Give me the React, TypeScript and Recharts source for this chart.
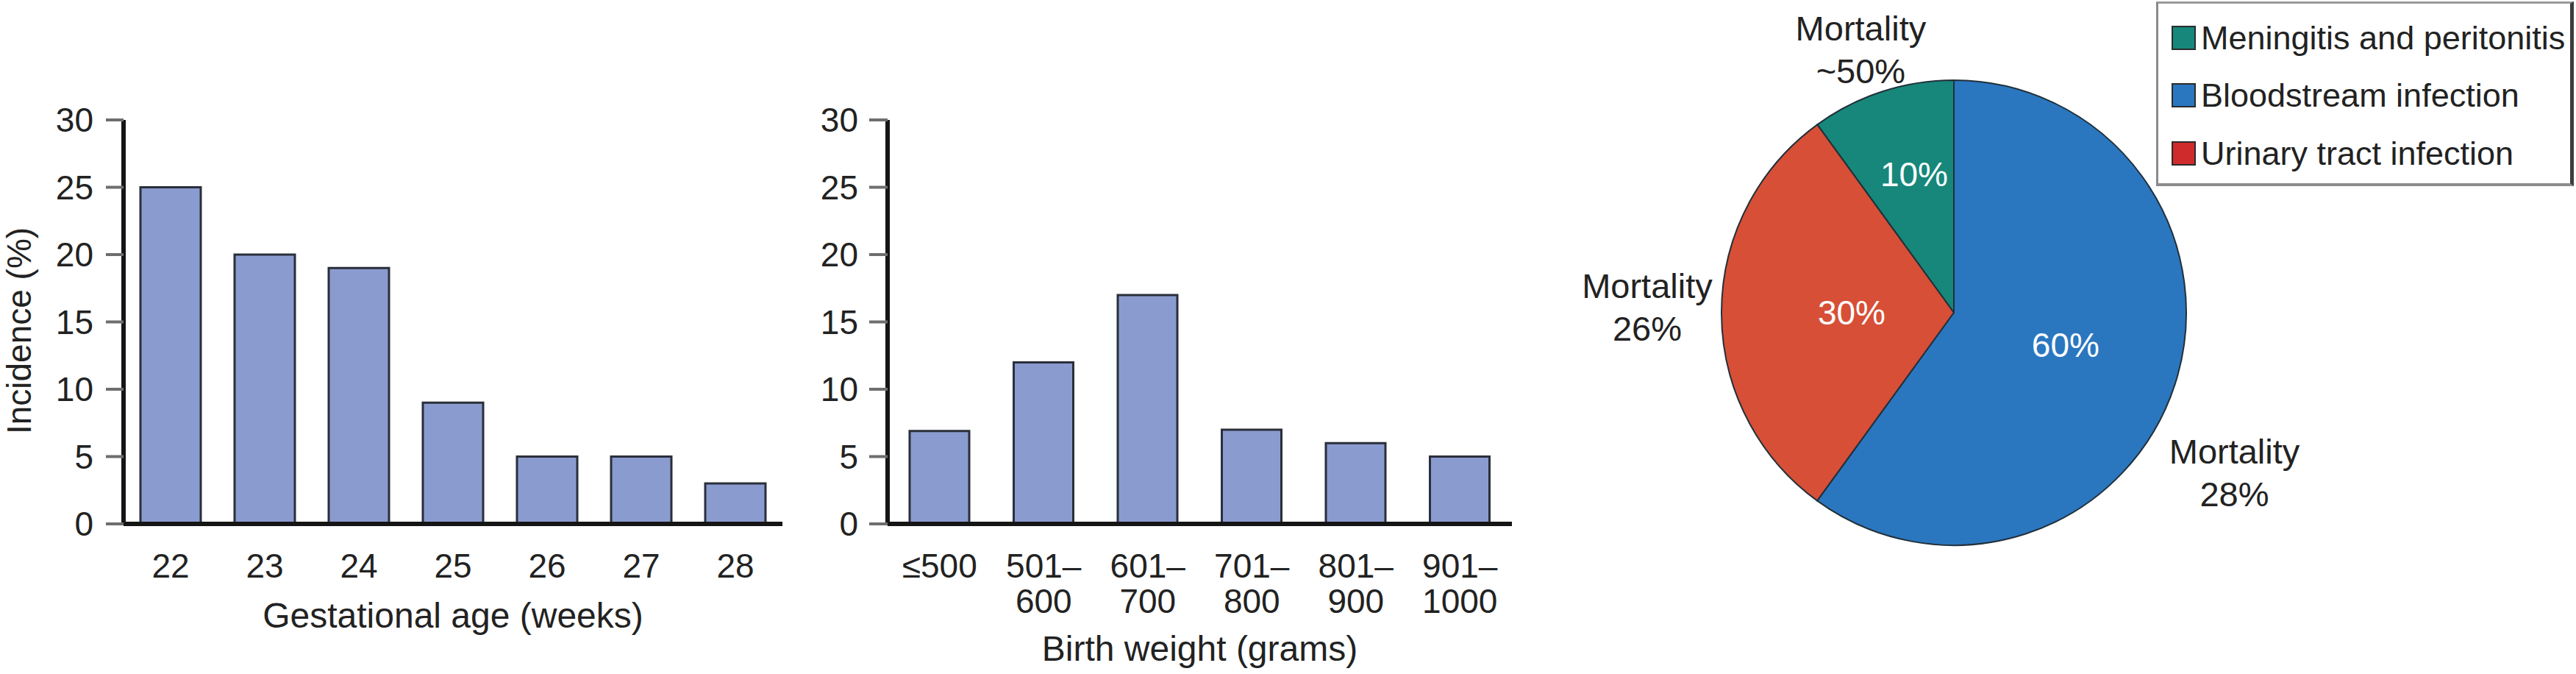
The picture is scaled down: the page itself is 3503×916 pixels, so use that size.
import { BarChart, Bar, XAxis, YAxis, PieChart, Pie, Cell, Legend } from 'recharts'

const FONT = '"Liberation Sans", Arial, Helvetica, sans-serif'
const INK = '#222'

// panel 1: incidence by gestational age
const gestationalWeeks = ['22', '23', '24', '25', '26', '27', '28']
const incidenceByWeek = [25, 20, 19, 9, 5, 5, 3]

// panel 2: incidence by birth weight
const birthWeightBins = ['≤500', '501–\n600', '601–\n700', '701–\n800', '801–\n900', '901–\n1000']
const incidenceByWeight = [6.9, 12, 17, 7, 6, 5]

const incidenceTicks = [0, 5, 10, 15, 20, 25, 30]

// panel 3: share of infection site (pie order, counter-clockwise from 12 o'clock)
const infectionSites = ['Meningitis and peritonitis', 'Urinary tract infection', 'Bloodstream infection']
const infectionShare = [10, 30, 60]
const infectionMortality = ['~50%', '26%', '28%']
const sliceColors = ['#16877a', '#d74f36', '#2a77c0']
const legendOrder = [0, 2, 1]
const legendColors = ['#16877a', '#cf2a2c', '#2a77c0']

// label placement around the pie: angle shift (deg) from mid angle, radius as share of outer radius
const insideLabelPlacement = [{ da: -2, r: 0.62 }, { da: 0, r: 0.44 }, { da: 2, r: 0.5 }]
const outsideLabelPlacement = [{ da: 1.5, r: 1.2 }, { da: -1, r: 1.32 }, { da: -11.7, r: 1.39 }]

const RADIAN = Math.PI / 180

const CategoryTick = (props: any) => {
    const { x, y, payload } = props
    const lines = String(payload.value).split('\n')
    return (
        <text x={x} y={y} textAnchor="middle" fontSize={46} fill={INK} fontFamily={FONT}>
            {lines.map((line, i) => (
                <tspan key={i} x={x} dy={i === 0 ? 73 : 48}>{line}</tspan>
            ))}
        </text>
    )
}

const IncidenceLabel = (props: any) => {
    const { viewBox } = props
    const x = viewBox.x + 42
    const y = viewBox.y + viewBox.height / 2 + 12
    return (
        <text x={x} y={y} transform={`rotate(-90, ${x}, ${y})`} textAnchor="middle" fontSize={46} fill={INK} fontFamily={FONT}>
            Incidence (%)
        </text>
    )
}

interface BarPanelProps {
    categories: string[]
    values: number[]
    xLabel: string
    xLabelOffset: number
    left: number
    width: number
    yAxisWidth: number
    rightMargin: number
    tickSize: number
    tickMargin: number
    barSize: number
    showYLabel?: boolean
}

function BarPanel({ categories, values, xLabel, xLabelOffset, left, width, yAxisWidth, rightMargin, tickSize, tickMargin, barSize, showYLabel }: BarPanelProps) {
    const data = categories.map((category, i) => ({ category, value: values[i] }))
    return (
        <div style={{ position: 'absolute', left, top: 0 }}>
            <BarChart width={width} height={916} data={data} margin={{ top: 163, right: rightMargin, bottom: 0, left: 0 }}>
                <XAxis
                    dataKey="category"
                    height={204}
                    interval={0}
                    tickLine={false}
                    tickSize={0}
                    tickMargin={0}
                    axisLine={{ stroke: '#151515', strokeWidth: 6 }}
                    tick={<CategoryTick />}
                    label={{ value: xLabel, position: 'insideBottom', offset: xLabelOffset, fontSize: 48, fill: INK, fontFamily: FONT }}
                />
                <YAxis
                    width={yAxisWidth}
                    domain={[0, 30]}
                    ticks={incidenceTicks}
                    interval={0}
                    tickSize={tickSize}
                    tickMargin={tickMargin}
                    axisLine={{ stroke: '#151515', strokeWidth: 6 }}
                    tickLine={{ stroke: '#6e6e6e', strokeWidth: 4 }}
                    tick={{ fontSize: 46, fill: INK, fontFamily: FONT }}
                    label={showYLabel ? <IncidenceLabel /> : undefined}
                />
                <Bar dataKey="value" fill="#8a9bcf" stroke="#2a2f3a" strokeWidth={3} barSize={barSize} isAnimationActive={false} />
            </BarChart>
        </div>
    )
}

const renderPieLabel = (props: any) => {
    const { cx, cy, midAngle, outerRadius, index } = props
    const inner = insideLabelPlacement[index]
    const outer = outsideLabelPlacement[index]
    const ia = (midAngle + inner.da) * RADIAN
    const oa = (midAngle + outer.da) * RADIAN
    const ix = cx + outerRadius * inner.r * Math.cos(ia)
    const iy = cy - outerRadius * inner.r * Math.sin(ia)
    const ox = cx + outerRadius * outer.r * Math.cos(oa)
    const oy = cy - outerRadius * outer.r * Math.sin(oa)
    return (
        <g fontFamily={FONT}>
            <text x={ix} y={iy + 16} textAnchor="middle" fontSize={46} fill="#fff">{`${infectionShare[index]}%`}</text>
            <text x={ox} y={oy - 13} textAnchor="middle" fontSize={47} fill={INK}>Mortality</text>
            <text x={ox} y={oy + 45} textAnchor="middle" fontSize={47} fill={INK}>{infectionMortality[index]}</text>
        </g>
    )
}

const SiteLegend = () => (
    <div
        style={{
            boxSizing: 'border-box',
            width: 568,
            height: 251,
            padding: '7px 0 0 18px',
            background: '#fff',
            borderTop: '3px solid #9a9a9a',
            borderLeft: '3px solid #8a8a8a',
            borderBottom: '4px solid #8c8c8c',
            borderRight: '5px solid #3c3c3c',
            fontFamily: FONT,
            fontSize: 45,
            color: INK,
        }}
    >
        {legendOrder.map((i) => (
            <div key={i} style={{ display: 'flex', alignItems: 'center', height: 78.5 }}>
                <span style={{ boxSizing: 'border-box', width: 33, height: 33, background: legendColors[i], border: '2px solid #2b2b2b', marginRight: 7 }} />
                <span style={{ lineHeight: '45px', whiteSpace: 'nowrap' }}>{infectionSites[i]}</span>
            </div>
        ))}
    </div>
)

export default function App() {
    const pieData = infectionSites.map((name, i) => ({ name, value: infectionShare[i] }))
    return (
        <div style={{ position: 'absolute', left: 0, top: 0, width: 3503, height: 916, background: '#fff', overflow: 'hidden' }}>
            <BarPanel
                categories={gestationalWeeks}
                values={incidenceByWeek}
                xLabel="Gestational age (weeks)"
                xLabelOffset={63}
                left={0}
                width={1100}
                yAxisWidth={168}
                rightMargin={36}
                tickSize={24}
                tickMargin={17}
                barSize={82}
                showYLabel
            />
            <BarPanel
                categories={birthWeightBins}
                values={incidenceByWeight}
                xLabel="Birth weight (grams)"
                xLabelOffset={18}
                left={1040}
                width={1060}
                yAxisWidth={167}
                rightMargin={44}
                tickSize={25}
                tickMargin={15}
                barSize={81}
            />
            <div style={{ position: 'absolute', left: 2050, top: 0 }}>
                <PieChart width={1453} height={916} margin={{ top: 0, right: 0, bottom: 0, left: 0 }}>
                    <Pie
                        data={pieData}
                        dataKey="value"
                        nameKey="name"
                        cx={607}
                        cy={425}
                        outerRadius={316}
                        startAngle={90}
                        endAngle={450}
                        stroke="#22303a"
                        strokeWidth={2}
                        labelLine={false}
                        label={renderPieLabel}
                        isAnimationActive={false}
                    >
                        {pieData.map((d, i) => (
                            <Cell key={d.name} fill={sliceColors[i]} />
                        ))}
                    </Pie>
                    <Legend content={<SiteLegend />} wrapperStyle={{ left: 882, top: 2, width: 568, height: 251, bottom: 'auto', right: 'auto' }} />
                </PieChart>
            </div>
        </div>
    )
}
